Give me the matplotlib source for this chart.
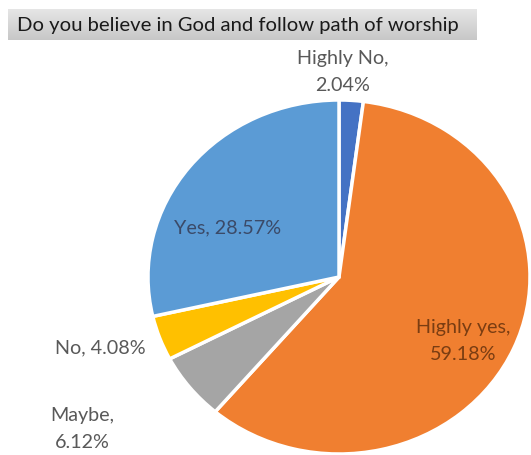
import matplotlib
matplotlib.use("Agg")
import matplotlib.pyplot as plt
import numpy as np

categories = ["Highly No", "Highly yes", "Maybe", "No", "Yes"]
values = [2.04, 59.18, 6.12, 4.08, 28.57]
colors = ["#4472C4", "#F07F30", "#A5A5A5", "#FFC000", "#5B9BD5"]
title = "Do you believe in God and follow path of worship"

W, H = 531, 456
fig = plt.figure(figsize=(W / 100, H / 100), dpi=100)
fig.patch.set_facecolor("white")

# pie geometry (pixels): center and radii (slightly stretched horizontally)
cx, cy, rx, ry = 339, 278, 191, 177
ax = fig.add_axes([0, 0, 1, 1])
wedges, _ = ax.pie(values, colors=colors, startangle=90, counterclock=False,
                   wedgeprops=dict(edgecolor="white", linewidth=2.5))
ax.set_aspect("auto")
ax.set_xlim((0 - cx) / rx, (W - cx) / rx)
ax.set_ylim((cy - H) / ry, (cy - 0) / ry)
ax.axis("off")

def px(x, y):
    return ((x - cx) / rx, (cy - y) / ry)

font = "Lato"
lab_gray = "#595959"
fs = 14.2
ls = 1.65
ax.text(*px(343, 72), "Highly No,\n2.04%", ha="center", va="center", color=lab_gray,
        fontsize=fs, family=font, linespacing=ls)
ax.text(*px(228, 228), "Yes, 28.57%", ha="center", va="center", color="#3b4a68",
        fontsize=fs, family=font)
ax.text(*px(463, 341), "Highly yes,\n59.18%", ha="center", va="center", color="#7a3d12",
        fontsize=fs, family=font, linespacing=ls)
ax.text(*px(100, 348), "No, 4.08%", ha="center", va="center", color=lab_gray,
        fontsize=fs, family=font)
ax.text(*px(82, 429), "Maybe,\n6.12%", ha="center", va="center", color=lab_gray,
        fontsize=fs, family=font, linespacing=ls)

# title box with gradient
tx0, ty0, tx1, ty1 = 8, 10, 477, 41
tax = fig.add_axes([tx0 / W, 1 - ty1 / H, (tx1 - tx0) / W, (ty1 - ty0) / H])
grad = np.linspace(0.90, 0.78, 50).reshape(-1, 1)
tax.imshow(np.repeat(grad, 2, axis=1), cmap="gray", vmin=0, vmax=1, aspect="auto",
           extent=(0, 1, 0, 1))
tax.set_xlim(0, 1)
tax.set_ylim(0, 1)
tax.axis("off")
tax.text(0.49, 0.5, title, ha="center", va="center", color="#1a1a1a",
         fontsize=14.6, family=font)

fig.savefig("out.png", dpi=100)
